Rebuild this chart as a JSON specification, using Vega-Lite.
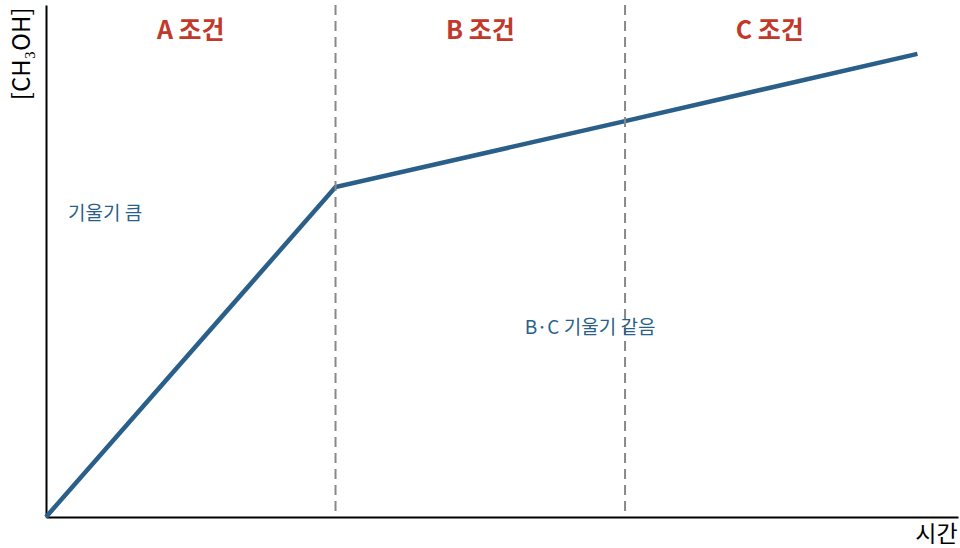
{
  "$schema": "https://vega.github.io/schema/vega-lite/v6.json",
  "width": 912,
  "height": 512,
  "autosize": {"type": "none"},
  "padding": {"left": 46, "top": 5, "right": 2, "bottom": 31},
  "background": "white",
  "config": {"view": {"stroke": null}, "font": "Noto Sans CJK KR"},
  "datasets": {
    "line": [
      {"t": 0, "c": 0},
      {"t": 1, "c": 5.0},
      {"t": 2, "c": 6.0},
      {"t": 3.01, "c": 7.02}
    ],
    "rules": [{"t": 1}, {"t": 2}],
    "regions": [
      {"t": 0.5, "c": 7.36, "label": "A 조건"},
      {"t": 1.5, "c": 7.36, "label": "B 조건"},
      {"t": 2.5, "c": 7.36, "label": "C 조건"}
    ],
    "notes": [
      {"t": 0.204, "c": 4.59, "label": "기울기 큼"},
      {"t": 1.879, "c": 2.865, "label": "B·C 기울기 같음"}
    ]
  },
  "encoding": {
    "x": {"field": "t", "type": "quantitative", "scale": {"domain": [0, 3.15], "nice": false, "zero": false},
      "axis": {"title": "시간", "ticks": false, "labels": false, "grid": false, "domainColor": "black", "domainWidth": 2,
        "titleFontSize": 23, "titleFontWeight": "normal", "titleColor": "black", "titleX": 890, "titleY": 17,
        "titleAlign": "center", "titleBaseline": "middle"}},
    "y": {"field": "c", "type": "quantitative", "scale": {"domain": [0, 7.76], "nice": false, "zero": false},
      "axis": {"title": "[CH₃OH]", "ticks": false, "labels": false, "grid": false, "domainColor": "black", "domainWidth": 2,
        "titleFontSize": 24, "titleFontWeight": "normal", "titleColor": "black", "titleX": -24, "titleY": 2,
        "titleAngle": -90, "titleAlign": "right", "titleBaseline": "middle"}}
  },
  "layer": [
    {
      "data": {"name": "line"},
      "mark": {"type": "line", "color": "#2a5f8a", "strokeWidth": 4.5, "strokeCap": "butt"}
    },
    {
      "data": {"name": "rules"},
      "mark": {"type": "rule", "color": "#888888", "strokeWidth": 2, "strokeDash": [10, 6]},
      "encoding": {"x": {"field": "t", "type": "quantitative"}, "y": null}
    },
    {
      "data": {"name": "regions"},
      "mark": {"type": "text", "color": "#c0392b", "fontSize": 25, "fontWeight": "bold", "align": "center", "baseline": "middle"},
      "encoding": {"text": {"field": "label"}}
    },
    {
      "data": {"name": "notes"},
      "mark": {"type": "text", "color": "#2a5f8a", "fontSize": 19, "align": "center", "baseline": "middle"},
      "encoding": {"text": {"field": "label"}}
    }
  ]
}
